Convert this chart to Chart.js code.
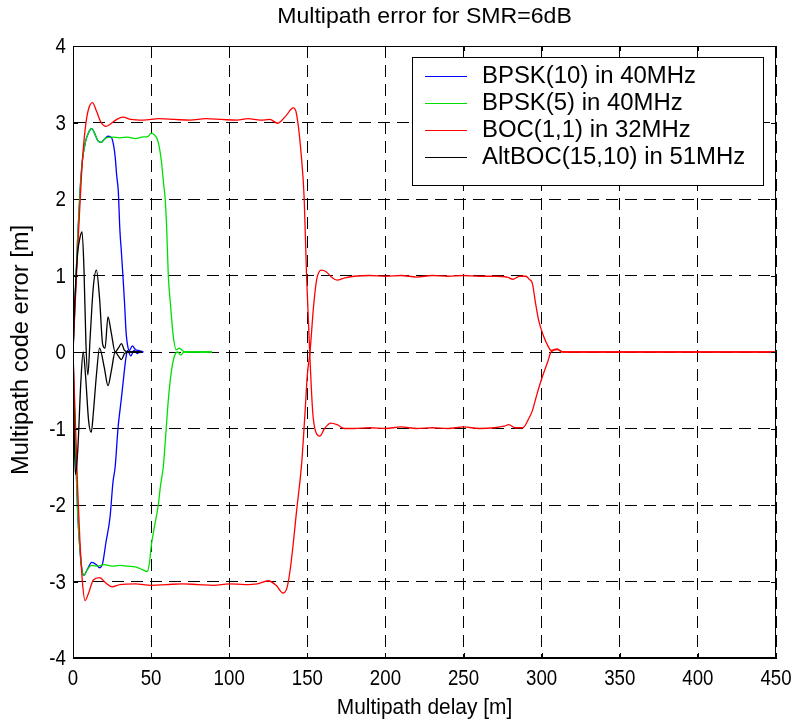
<!DOCTYPE html>
<html>
<head>
<meta charset="utf-8">
<title>Multipath error for SMR=6dB</title>
<script src="https://cdn.jsdelivr.net/npm/chart.js@4.4.1/dist/chart.umd.min.js"></script>
<style>
  html, body { margin: 0; padding: 0; background: #fff; }
  #plot { display: block; }
</style>
</head>
<body>
<canvas id="plot" width="797" height="722"></canvas>
<script>
// envelope points as [delay m, error m]
const bpsk10Upper = [[0,0],[1,0.5],[2,1.0],[3,1.5],[4.5,2.1],[6,2.5],[8,2.75],[10,2.87],[12,2.92],[14,2.85],[16,2.76],[18,2.74],[20,2.78],[22.5,2.82],[24.7,2.8],[26,2.7],[27,2.55],[28,2.3],[29,2.1],[30,1.6],[31,1.3],[32,0.98],[33,0.64],[34,0.25],[35,0.08],[36,0.02],[38,0.08],[40,0.03],[42,0.02],[45,0]];
const bpsk10Lower = [[0,0],[1,-0.8],[2,-1.5],[3,-2.1],[4.5,-2.6],[6,-2.88],[7,-2.92],[9,-2.85],[12,-2.75],[15,-2.78],[17,-2.82],[19,-2.76],[21,-2.5],[23.7,-2.16],[25.6,-1.7],[27,-1.5],[28.8,-1.0],[31,-0.6],[32,-0.41],[34,-0.06],[35,0.02],[37,-0.05],[39,0.02],[41,-0.02],[43,0],[45,0]];

const bpsk5Upper = [[0,0],[1,0.5],[2,1.0],[3,1.5],[4.5,2.1],[6,2.5],[8,2.75],[10,2.87],[12,2.92],[14,2.85],[16,2.76],[18,2.74],[21,2.8],[25,2.81],[30,2.8],[35,2.81],[40,2.79],[44,2.81],[48,2.82],[50,2.86],[52,2.84],[54,2.78],[55.5,2.65],[56.7,2.47],[58,2.2],[59,2.0],[60,1.6],[61,1.0],[62.5,0.6],[64,0.24],[66,0.03],[68,0.05],[70,0.02],[72,0],[80,0],[89,0]];
const bpsk5Lower = [[0,0],[1,-0.8],[2,-1.5],[3,-2.1],[4.5,-2.6],[6,-2.88],[7,-2.92],[9,-2.85],[12,-2.79],[16,-2.8],[20,-2.78],[25,-2.8],[30,-2.79],[35,-2.8],[40,-2.81],[45,-2.85],[47.4,-2.87],[49,-2.75],[50,-2.55],[52,-2.3],[54.6,-2.0],[56,-1.75],[57.8,-1.5],[59.5,-1.05],[61,-0.63],[63,-0.25],[65,-0.05],[67,0],[69,-0.04],[71,0],[89,0]];

const boc11Upper = [[0,0],[1,0.45],[2,0.9],[3,1.35],[4.5,1.95],[6,2.5],[8,2.95],[10,3.18],[12.5,3.26],[15,3.15],[18,3.0],[21,2.95],[24,2.98],[28,3.04],[32,3.07],[37,3.04],[45,3.03],[55,3.05],[65,3.04],[75,3.03],[85,3.05],[95,3.04],[105,3.03],[112,3.05],[120,3.03],[126,3.04],[131,2.99],[136,3.08],[141,3.19],[143,3.12],[146,2.6],[148,2.0],[149.5,1.0],[151.5,0],[153.5,-0.8],[155.5,-1.05],[158,-1.1],[161,-1.0],[165,-0.93],[169,-0.95],[174,-1.0],[180,-1.0],[190,-0.99],[200,-1.0],[210,-0.98],[220,-1.0],[230,-0.99],[240,-1.0],[250,-0.98],[260,-1.0],[270,-0.99],[276,-0.97],[279,-0.95],[283,-0.99],[288,-0.99],[291,-0.9],[294,-0.77],[297,-0.55],[300,-0.35],[304,-0.12],[306,0],[310,0.03],[314,0],[320,0],[360,0],[400,0],[450,0]];
const boc11Lower = [[0,0],[1,-0.6],[2,-1.2],[3,-1.8],[4.5,-2.5],[6,-3.0],[7.7,-3.25],[10,-3.15],[13,-2.98],[17,-2.95],[21,-3.02],[25,-3.07],[30,-3.04],[40,-3.03],[50,-3.05],[60,-3.04],[70,-3.03],[80,-3.04],[90,-3.05],[100,-3.03],[110,-3.04],[118,-3.03],[125,-2.99],[130,-3.05],[134.5,-3.15],[137,-3.08],[139,-2.85],[141,-2.5],[143,-2.1],[146.4,-1.45],[148.5,-0.8],[150,-0.3],[151.7,0],[154,0.6],[156,0.95],[159,1.07],[162,1.05],[166,0.97],[169,0.94],[174,0.97],[180,0.99],[190,1.0],[200,0.99],[210,1.0],[220,0.98],[230,1.0],[240,0.99],[250,1.0],[260,0.99],[270,0.99],[278,0.98],[281.5,0.95],[286,0.99],[290,0.99],[292,0.95],[294,0.9],[296,0.65],[298,0.42],[301,0.22],[304,0.08],[306,0.02],[310,0.04],[313,0],[320,0],[360,0],[400,0],[450,0]];

const altbocUpper = [[0,0],[1,0.6],[2,1.0],[3,1.3],[4.5,1.5],[5.8,1.57],[7,1.1],[8.3,0.1],[9.5,-0.3],[11,0.2],[13,0.85],[15,1.07],[17,0.7],[19,0.1],[20.5,0.05],[22.4,0.46],[24.5,0.25],[27,0],[29,0.05],[31,0.11],[33,0.02],[36,0],[40,0],[44,0]];
const altbocLower = [[0,0],[0.7,-1.0],[1.5,-1.6],[3,-1.3],[5,-0.4],[6.5,0],[8,-0.3],[10,-0.9],[11.7,-1.05],[13,-0.8],[15,-0.3],[17,0.05],[20,-0.2],[22.4,-0.44],[24.5,-0.25],[27,0],[29,-0.05],[31,-0.1],[33,-0.02],[36,0],[44,0]];

const seriesNames = ["BPSK(10) in 40MHz", "BPSK(5) in 40MHz", "BOC(1,1) in 32MHz", "AltBOC(15,10) in 51MHz"];
const seriesColors = ["#0000ff", "#00e000", "#ff0000", "#000000"];

const xTicks = [0, 50, 100, 150, 200, 250, 300, 350, 400, 450];
const yTicks = [-4, -3, -2, -1, 0, 1, 2, 3, 4];

const sans = "'Liberation Sans', Arial, Helvetica, sans-serif";

const toXY = (pts) => pts.map(([x, y]) => ({ x, y }));

const curve = (pts, color, label) => ({
  label,
  data: toXY(pts),
  borderColor: color,
  borderWidth: 1.3,
  pointRadius: 0,
  cubicInterpolationMode: "monotone",
  fill: false,
});

// black is drawn last by being first
const datasets = [
  curve(altbocUpper, seriesColors[3], seriesNames[3]),
  curve(altbocLower, seriesColors[3], seriesNames[3]),
  curve(boc11Upper, seriesColors[2], seriesNames[2]),
  curve(boc11Lower, seriesColors[2], seriesNames[2]),
  curve(bpsk5Upper, seriesColors[1], seriesNames[1]),
  curve(bpsk5Lower, seriesColors[1], seriesNames[1]),
  curve(bpsk10Upper, seriesColors[0], seriesNames[0]),
  curve(bpsk10Lower, seriesColors[0], seriesNames[0]),
];

// text squeezed or stretched sideways, like the Helvetica of the original plot
const scaledText = (ctx, text, x, y, scaleX) => {
  ctx.save();
  ctx.translate(x, y);
  ctx.scale(scaleX, 1);
  ctx.fillText(text, 0, 0);
  ctx.restore();
};

// axes box, inward ticks, tick labels, title and the boxed legend
const framePlugin = {
  id: "frame",
  afterDraw(chart) {
    const { ctx, chartArea: a, scales } = chart;
    ctx.save();
    ctx.strokeStyle = "#000";
    ctx.lineWidth = 1;
    ctx.setLineDash([]);
    ctx.strokeRect(a.left + 0.5, a.top + 0.5, a.right - a.left - 1, a.bottom - a.top - 1);

    const tl = 5;
    ctx.beginPath();
    xTicks.forEach((v) => {
      const px = Math.round(scales.x.getPixelForValue(v)) + 0.5;
      ctx.moveTo(px, a.bottom); ctx.lineTo(px, a.bottom - tl);
      ctx.moveTo(px, a.top); ctx.lineTo(px, a.top + tl);
    });
    yTicks.forEach((v) => {
      const py = Math.round(scales.y.getPixelForValue(v)) + 0.5;
      ctx.moveTo(a.left, py); ctx.lineTo(a.left + tl, py);
      ctx.moveTo(a.right, py); ctx.lineTo(a.right - tl, py);
    });
    ctx.stroke();

    ctx.fillStyle = "#000";
    ctx.font = "22px " + sans;
    ctx.textBaseline = "middle";
    ctx.textAlign = "right";
    yTicks.forEach((v) => {
      scaledText(ctx, String(v), a.left - 7, scales.y.getPixelForValue(v) + 1, 0.85);
    });
    ctx.textAlign = "center";
    xTicks.forEach((v) => {
      scaledText(ctx, String(v), scales.x.getPixelForValue(v), a.bottom + 21, 0.85);
    });

    ctx.font = "22px " + sans;
    scaledText(ctx, "Multipath delay [m]", (a.left + a.right) / 2, 708, 0.95);
    scaledText(ctx, "Multipath error for SMR=6dB", (a.left + a.right) / 2, 17, 1.05);

    ctx.save();
    ctx.translate(22, (a.top + a.bottom) / 2 - 2);
    ctx.rotate(-Math.PI / 2);
    ctx.font = "23px " + sans;
    scaledText(ctx, "Multipath code error [m]", 0, 0, 1.03);
    ctx.restore();

    // legend
    const lx = 412, ly = 57, lw = 351, lh = 128;
    ctx.fillStyle = "#fff";
    ctx.fillRect(lx, ly, lw, lh);
    ctx.strokeStyle = "#000";
    ctx.strokeRect(lx + 0.5, ly + 0.5, lw, lh);
    ctx.font = "23px " + sans;
    ctx.textAlign = "left";
    seriesNames.forEach((name, i) => {
      const y = ly + 19 + i * 27;
      ctx.strokeStyle = seriesColors[i];
      ctx.lineWidth = 1.2;
      ctx.beginPath();
      ctx.moveTo(lx + 13, y + 0.5);
      ctx.lineTo(lx + 55, y + 0.5);
      ctx.stroke();
      ctx.fillStyle = "#000";
      scaledText(ctx, name, lx + 70, y + 1, 1.04);
    });
    ctx.restore();
  },
};

new Chart(document.getElementById("plot"), {
  type: "line",
  data: { datasets },
  options: {
    responsive: false,
    animation: false,
    devicePixelRatio: 1,
    layout: { padding: { top: 46, right: 21, left: 0, bottom: 0 } },
    plugins: { legend: { display: false }, tooltip: { enabled: false }, title: { display: false } },
    scales: {
      x: {
        type: "linear",
        min: 0,
        max: 450,
        afterFit: (s) => { s.height = 64; },
        afterBuildTicks: (s) => { s.ticks = xTicks.map((value) => ({ value })); },
        grid: { color: "#000", lineWidth: 1, drawTicks: false },
        border: { display: true, color: "#000", dash: [12, 7] },
        ticks: { display: false },
      },
      y: {
        type: "linear",
        min: -4,
        max: 4,
        afterFit: (s) => { s.width = 73; },
        afterBuildTicks: (s) => { s.ticks = yTicks.map((value) => ({ value })); },
        grid: { color: "#000", lineWidth: 1, drawTicks: false },
        border: { display: true, color: "#000", dash: [12, 7] },
        ticks: { display: false },
      },
    },
  },
  plugins: [framePlugin],
});
</script>
</body>
</html>
